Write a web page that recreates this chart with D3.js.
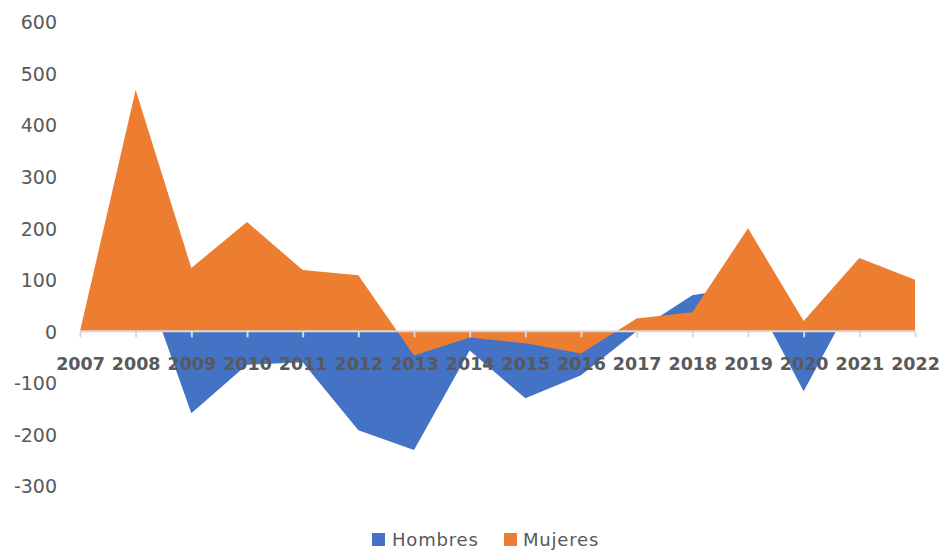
<!DOCTYPE html>
<html>
<head>
<meta charset="utf-8">
<script src="https://cdn.jsdelivr.net/npm/d3@7"></script>
<style>
  html, body { margin: 0; padding: 0; background: #fff; }
  svg { display: block; }
</style>
</head>
<body>
<svg id="chart" width="942" height="550"></svg>
<script>
// Annual change by sex, 2007–2022
const years = ["2007","2008","2009","2010","2011","2012","2013","2014","2015","2016","2017","2018","2019","2020","2021","2022"];
const hombres = [0, 145, -159, -65, -60, -192, -230, -37, -130, -85, 0, 70, 88, -116, 84, 60];
const mujeres = [0, 468, 123, 212, 119, 109, -47, -12, -23, -43, 25, 37, 200, 20, 142, 100];
const yTicks = [-300, -200, -100, 0, 100, 200, 300, 400, 500, 600];
const seriesNames = ["Hombres", "Mujeres"];
const colors = ["#4472C4", "#ED7D31"];

const svg = d3.select("#chart");
const textColor = "#595959";
const axisColor = "#D9D9D9";

const x = d3.scalePoint().domain(years).range([80, 915]);
const y = d3.scaleLinear().domain([-300, 600]).range([486, 22]);

// Areas: men first, women drawn over them
const area = d3.area()
  .x((d, i) => x(years[i]))
  .y0(y(0))
  .y1(d => y(d));

[hombres, mujeres].forEach((vals, k) => {
  svg.append("path")
    .datum(vals)
    .attr("d", area)
    .attr("fill", colors[k]);
});

// Value axis labels (no axis line), plain hyphen for negatives
const yAxis = d3.axisLeft(y).tickValues(yTicks).tickSize(0).tickPadding(0).tickFormat(d => String(d));
const gy = svg.append("g").attr("transform", "translate(57,0)").call(yAxis);
gy.select(".domain").remove();
gy.selectAll("text")
  .attr("fill", textColor)
  .style("font-family", "'DejaVu Sans', sans-serif")
  .style("font-size", "19px")
  .attr("dy", "0.36em");

// Category axis along zero
const xAxis = d3.axisBottom(x).tickSize(6).tickPadding(0).tickSizeOuter(0);
const gx = svg.append("g").attr("transform", `translate(0,${y(0)})`).call(xAxis);
gx.select(".domain").attr("stroke", axisColor).attr("stroke-width", 2)
  .attr("d", `M${x(years[0])},0H${x(years[years.length - 1])}`);
gx.selectAll(".tick line").attr("stroke", axisColor).attr("stroke-width", 2);
gx.selectAll("text")
  .attr("fill", textColor)
  .attr("y", 39)
  .attr("dy", 0)
  .style("font-family", "'DejaVu Sans', sans-serif")
  .style("font-weight", "bold")
  .style("font-size", "17.5px");

// Legend
const legendItems = [
  { name: seriesNames[0], color: colors[0], sx: 372, tx: 392 },
  { name: seriesNames[1], color: colors[1], sx: 504, tx: 523 }
];
const lg = svg.append("g");
legendItems.forEach(it => {
  lg.append("rect").attr("x", it.sx).attr("y", 533).attr("width", 13).attr("height", 13).attr("fill", it.color);
  lg.append("text").attr("x", it.tx).attr("y", 546)
    .attr("fill", textColor)
    .style("font-family", "'DejaVu Sans', sans-serif")
    .style("font-size", "18px")
    .style("letter-spacing", "0.8px")
    .text(it.name);
});
</script>
</body>
</html>
